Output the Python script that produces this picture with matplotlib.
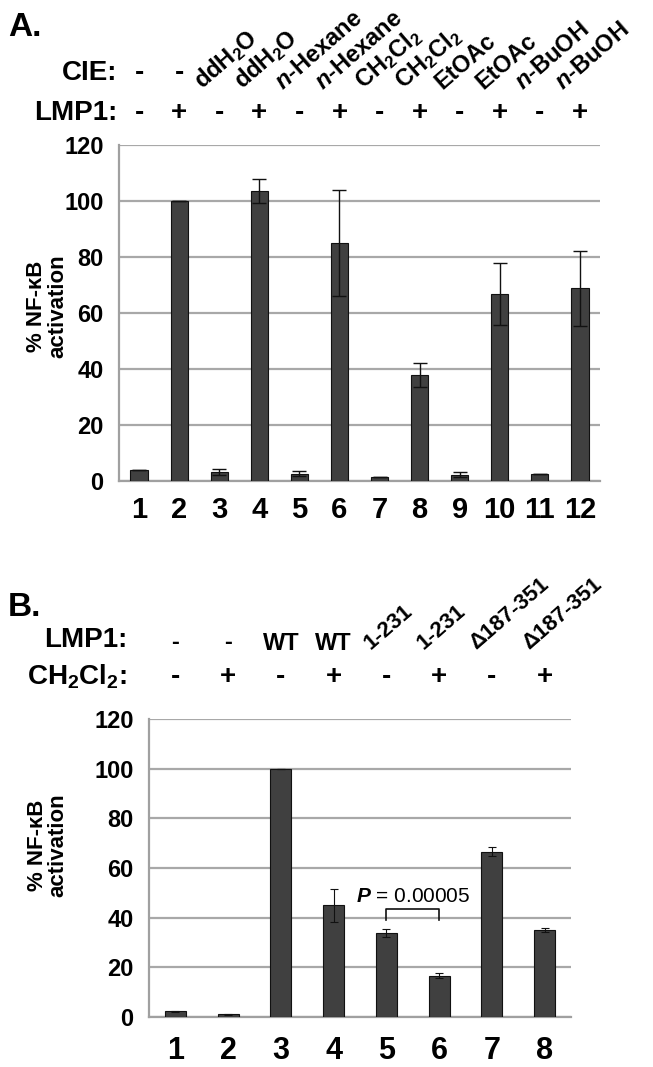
import matplotlib
matplotlib.use("Agg")
import matplotlib.pyplot as plt
import matplotlib.transforms as mtransforms
import numpy as np

plt.rcParams['font.family'] = ['Liberation Sans', 'DejaVu Sans']
plt.rcParams['font.weight'] = 'bold'
plt.rcParams['mathtext.fontset'] = 'custom'
plt.rcParams['mathtext.rm'] = 'Liberation Sans:bold'
plt.rcParams['mathtext.bf'] = 'Liberation Sans:bold'
plt.rcParams['mathtext.it'] = 'Liberation Sans:italic:bold'
plt.rcParams['mathtext.default'] = 'bf'

# ---- datos panel A ----
carriles_a = ['1', '2', '3', '4', '5', '6', '7', '8', '9', '10', '11', '12']
valores_a = [4.1, 100, 3.2, 103.7, 2.6, 85.1, 1.5, 37.8, 2.3, 66.8, 2.5, 68.9]
errores_a = [0, 0, 1.1, 4.3, 0.9, 19, 0, 4.4, 0.9, 11.2, 0, 13.4]
cie_a = ['-', '-', r'ddH$_2$O', r'ddH$_2$O', r'$\mathit{n}$-Hexane', r'$\mathit{n}$-Hexane',
         r'CH$_2$Cl$_2$', r'CH$_2$Cl$_2$', 'EtOAc', 'EtOAc', r'$\mathit{n}$-BuOH', r'$\mathit{n}$-BuOH']
lmp1_a = ['-', '+', '-', '+', '-', '+', '-', '+', '-', '+', '-', '+']

# ---- datos panel B ----
carriles_b = ['1', '2', '3', '4', '5', '6', '7', '8']
valores_b = [2.3, 1.1, 100, 44.9, 33.8, 16.6, 66.6, 35.0]
errores_b = [0.3, 0.2, 0, 6.7, 1.5, 1.0, 1.8, 0.9]
lmp1_b = ['-', '-', 'WT', 'WT', '1-231', '1-231', '\u0394187-351', '\u0394187-351']
ch2cl2_b = ['-', '+', '-', '+', '-', '+', '-', '+']

W, H = 653, 1067
fig = plt.figure(figsize=(W / 100, H / 100), dpi=100)


def fy(py):
    # pixel desde arriba -> coordenada de figura
    return 1 - py / H


def graficar_panel(rect, carriles, valores, errores, tam_x, pad_x, ylab_pos, ancho, cap, lw_err):
    ax = fig.add_axes(rect)
    x = np.arange(len(carriles))
    ax.bar(x, valores, width=ancho, color='#404040', edgecolor='#111111', linewidth=0.8, zorder=3)
    ax.errorbar(x, valores, yerr=errores, fmt='none', ecolor='#111111', elinewidth=lw_err,
                capsize=cap, capthick=lw_err, zorder=4)
    ax.set_ylim(0, 120)
    ax.set_xlim(-0.5, len(carriles) - 0.5)
    ax.set_yticks(np.arange(0, 121, 20))
    ax.yaxis.grid(True, color='#a8a8a8', linewidth=1.6, zorder=0)
    ax.set_axisbelow(True)
    ax.set_xticks(x)
    ax.set_xticklabels(carriles, fontsize=tam_x, fontweight='bold')
    ax.tick_params(axis='x', length=0, pad=pad_x)
    ax.tick_params(axis='y', length=0, pad=11, labelsize=17)
    for lab in ax.get_yticklabels():
        lab.set_fontweight('bold')
    for s in ['top', 'right']:
        ax.spines[s].set_visible(False)
    ax.spines['left'].set_color('#a0a0a0')
    ax.spines['left'].set_linewidth(1.6)
    ax.spines['bottom'].set_color('#a0a0a0')
    ax.spines['bottom'].set_linewidth(1.6)
    ax.set_ylabel('% NF-\u03baB\nactivation', fontsize=16, fontweight='bold', linespacing=1.0)
    ax.yaxis.set_label_coords(*ylab_pos)
    return ax


# panel A
axA = graficar_panel([119 / W, fy(481), 481 / W, 336 / H], carriles_a, valores_a, errores_a,
                     21, 11, (-0.105, 0.52), 0.43, 5, 1.0)
trA = mtransforms.blended_transform_factory(axA.transData, fig.transFigure)
fig.text(0.012, fy(27), 'A.', fontsize=24, fontweight='bold', va='center')
fig.text(117 / W, fy(73), 'CIE:', fontsize=20, fontweight='bold', ha='right', va='center')
fig.text(117 / W, fy(113), 'LMP1:', fontsize=20, fontweight='bold', ha='right', va='center')
for i, t in enumerate(cie_a):
    if t == '-':
        axA.text(i, fy(73), t, transform=trA, fontsize=20, ha='center', va='center')
    else:
        axA.text(i - 0.42, fy(90), t, transform=trA, fontsize=17, rotation=41,
                 ha='left', va='baseline', rotation_mode='anchor')
for i, t in enumerate(lmp1_a):
    axA.text(i, fy(113), t, transform=trA, fontsize=20, ha='center', va='center')

# panel B
axB = graficar_panel([149 / W, fy(1017), 422 / W, 298 / H], carriles_b, valores_b, errores_b,
                     22, 14, (-0.19, 0.577), 0.40, 3, 0.8)
trB = mtransforms.blended_transform_factory(axB.transData, fig.transFigure)
fig.text(0.012, fy(608), 'B.', fontsize=24, fontweight='bold', va='center')
fig.text(127 / W, fy(640), 'LMP1:', fontsize=20, fontweight='bold', ha='right', va='center')
fig.text(127 / W, fy(677), r'CH$_2$Cl$_2$:', fontsize=20, fontweight='bold', ha='right', va='center')
for i, t in enumerate(lmp1_b):
    if t in ('-', 'WT'):
        axB.text(i, fy(643), t, transform=trB, fontsize=17,
                 ha='center', va='center')
    else:
        axB.text(i - 0.3, fy(650), t, transform=trB, fontsize=16, rotation=41,
                 ha='left', va='baseline', rotation_mode='anchor')
for i, t in enumerate(ch2cl2_b):
    axB.text(i, fy(677), t, transform=trB, fontsize=20, ha='center', va='center')

# corchete del valor P entre carriles 5 y 6
axB.plot([4, 4, 5, 5], [39.2, 43.6, 43.6, 39.2], color='#111111', linewidth=1.2, zorder=5)
axB.text(4.5, 48.5, r'$\mathit{P}$ = 0.00005', fontsize=15, fontweight='normal',
         ha='center', va='center')

fig.savefig('out.png', dpi=100)
